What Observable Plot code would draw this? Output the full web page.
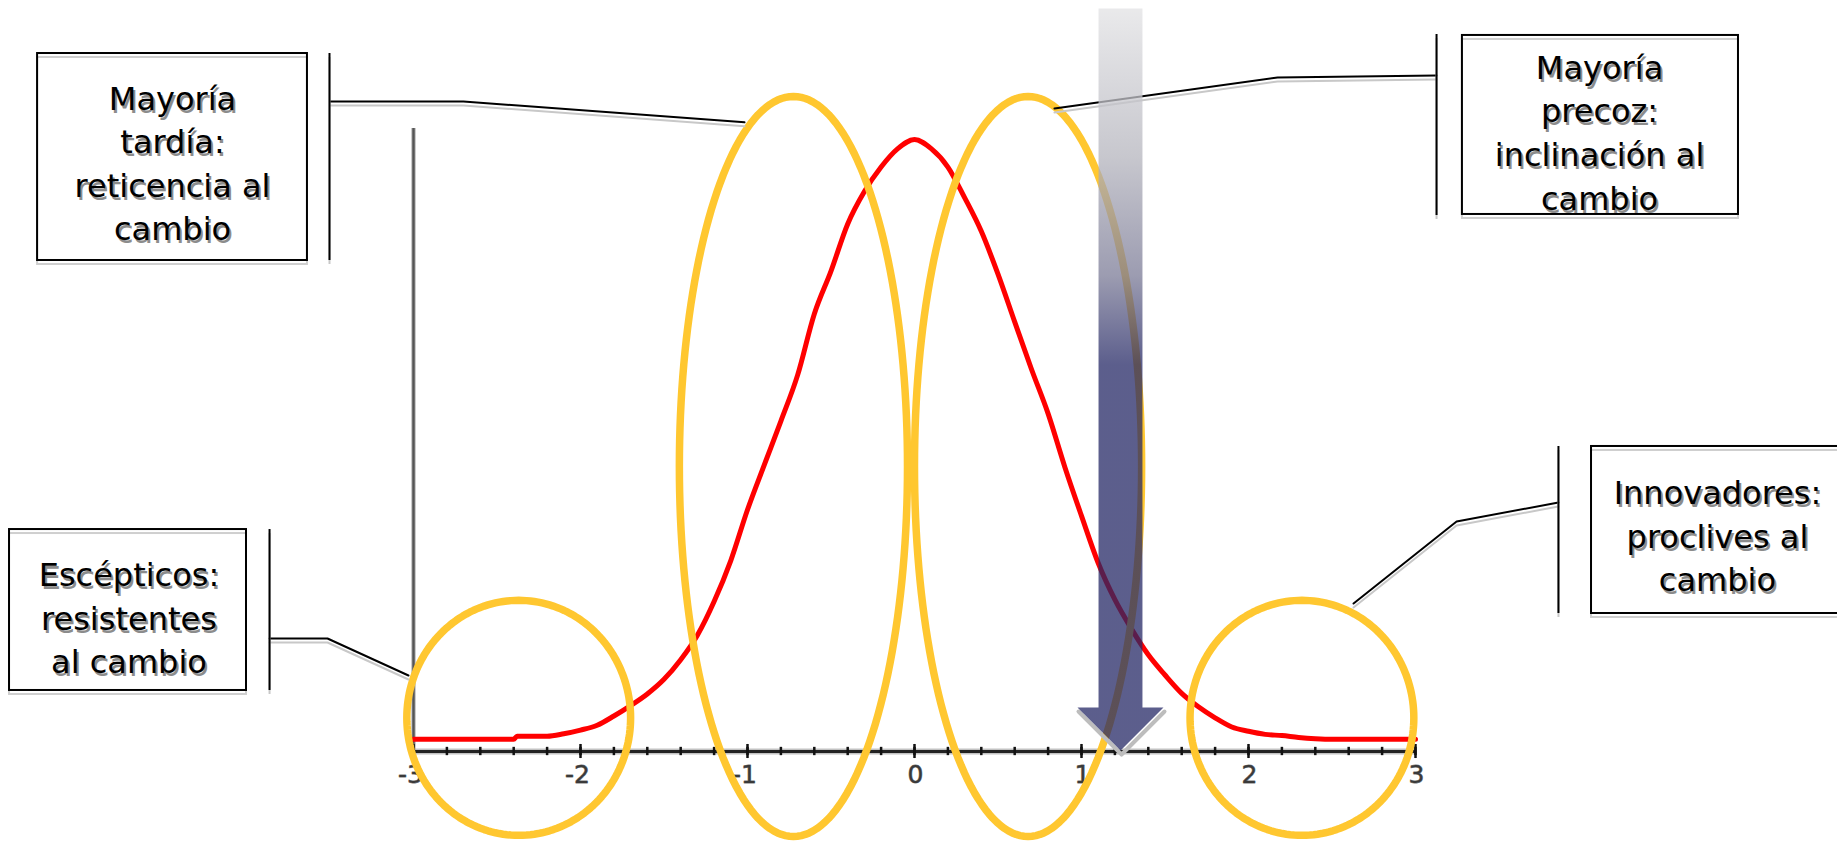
<!DOCTYPE html>
<html><head><meta charset="utf-8">
<script src="https://cdn.jsdelivr.net/npm/d3@7"></script>
<script src="https://cdn.jsdelivr.net/npm/@observablehq/plot@0.6"></script>
<style>html,body{margin:0;padding:0;background:#fff;overflow:hidden}</style>
</head><body><div id="chart"></div>
<script>
// ---- data ----
const curveX = [-3.0,-2.9,-2.8,-2.7,-2.6,-2.5,-2.4,-2.38,-2.3,-2.2,-2.1,-2.0,-1.9,-1.8,-1.7,-1.6,-1.5,-1.4,-1.3,-1.2,-1.1,-1.0,-0.9,-0.8,-0.7,-0.6,-0.5,-0.4,-0.3,-0.2,-0.1,0.0,0.1,0.2,0.3,0.4,0.5,0.6,0.7,0.8,0.9,1.0,1.1,1.2,1.3,1.4,1.5,1.6,1.7,1.8,1.9,2.0,2.1,2.2,2.3,2.4,2.5,2.6,2.7,2.8,2.9,3.0];
const curveY = [0.020,0.020,0.020,0.020,0.020,0.020,0.020,0.025,0.025,0.025,0.029,0.035,0.043,0.058,0.075,0.094,0.118,0.150,0.190,0.245,0.312,0.395,0.468,0.540,0.615,0.715,0.785,0.862,0.915,0.955,0.985,1.000,0.985,0.955,0.905,0.850,0.780,0.702,0.625,0.552,0.465,0.385,0.308,0.248,0.200,0.158,0.125,0.095,0.073,0.055,0.040,0.033,0.028,0.026,0.023,0.021,0.020,0.020,0.020,0.020,0.020,0.020];
const majorTicks = [-3,-2,-1,0,1,2,3];
const tickLabels = ["-3","-2","-1","0","1","2","3"];
const minorTicks = d3.range(-30, 31, 2).map(d => d / 10);
const groupLabels = [
  "Mayoría\ntardía:\nreticencia al\ncambio",
  "Mayoría\nprecoz:\ninclinación al\ncambio",
  "Escépticos:\nresistentes\nal cambio",
  "Innovadores:\nproclives al\ncambio"
];

// ---- annotation layout (in data units of the x / y scales) ----
const boxes = [
  {x1:-5.251, x2:-3.635, y1:1.1405, y2:0.8023, tx:-4.443, ty:0.9644},
  {x1: 3.281, x2: 4.934, y1:1.170,  y2:0.8775, tx: 4.102, ty:1.015},
  {x1:-5.419, x2:-4.000, y1:0.3627, y2:0.0997, tx:-4.704, ty:0.2221},
  {x1: 4.054, x2: 5.575, y1:0.4984, y2:0.2255, tx: 4.808, ty:0.3557}
].map((b, i) => ({...b, label: groupLabels[i]}));
const bars = [
  {x:-3.503, y1:1.1405, y2:0.8023},
  {x: 3.126, y1:1.1716, y2:0.8758},
  {x:-3.862, y1:0.3627, y2:0.0997},
  {x: 3.856, y1:0.4984, y2:0.2255}
];
const leaders = [
  [[-3.497,1.062],[-2.701,1.062],[-1.018,1.028]],
  [[3.126,1.1046],[2.174,1.1013],[0.838,1.0507]],
  [[-3.862,0.1846],[-3.515,0.1846],[-3.030,0.1242]],
  [[3.856,0.4069],[3.246,0.3758],[2.629,0.2418]]
].flatMap((pts, id) => pts.map(([x, y]) => ({id, x, y})));
const ellipses = [
  {cx:-2.37, cy:0.055, rx:0.67, ry:0.192},
  {cx:-0.725, cy:0.4657, rx:0.683, ry:0.6046},
  {cx: 0.68, cy:0.4657, rx:0.68, ry:0.6046},
  {cx: 2.32, cy:0.055, rx:0.67, ry:0.192}
];
const ellipsePts = ellipses.flatMap((e, id) =>
  d3.range(0, 180).map(k => {
    const t = (k / 180) * 2 * Math.PI;
    return {id, x: e.cx + e.rx * Math.cos(t), y: e.cy + e.ry * Math.sin(t)};
  }));
const arrowShape = [
  {x:1.102, y:1.214}, {x:1.102, y:0.0719}, {x:0.976, y:0.0719},
  {x:1.234, y:0.0016}, {x:1.491, y:0.0719}, {x:1.365, y:0.0719}, {x:1.365, y:1.214}
];
const arrowLip = [{x:0.976, y:0.0719}, {x:1.234, y:0.0016}, {x:1.491, y:0.0719}];

const curve = curveX.map((x, i) => ({x, y: curveY[i]}));
const ticksTable = majorTicks.map((x, i) => ({x, label: tickLabels[i]}));
const FONT = "DejaVu Sans";

const chart = Plot.plot({
  width: 1837,
  height: 842,
  marginTop: 0, marginRight: 0, marginBottom: 0, marginLeft: 0,
  x: {domain: [-3, 3], range: [413, 1415], axis: null},
  y: {domain: [0, 1], range: [751, 139], axis: null},
  style: {background: "#fff"},
  marks: [
    // y axis
    Plot.ruleX([-3], {y1: 0, y2: 1.018, stroke: "#999", strokeWidth: 5, strokeOpacity: 0.5}),
    Plot.ruleX([-3], {y1: 0, y2: 1.018, stroke: "#555", strokeWidth: 2.5}),
    // x axis
    Plot.ruleY([0], {x1: -3, x2: 3, stroke: "#999", strokeWidth: 6, strokeOpacity: 0.6}),
    Plot.ruleY([0], {x1: -3, x2: 3, stroke: "#222", strokeWidth: 3}),
    Plot.ruleX(minorTicks, {y1: -0.0068, y2: 0.0068, stroke: "#111", strokeWidth: 2.5}),
    Plot.ruleX(majorTicks, {y1: -0.0115, y2: 0.0115, stroke: "#111", strokeWidth: 2.5}),
    Plot.text(ticksTable.filter(d => d.x < 0), {x: "x", y: 0, text: "label", dy: 23, dx: -3, fontSize: 25, fontFamily: FONT, fill: "#3a3a3a", stroke: "#777", strokeWidth: 0.8}),
    Plot.text(ticksTable.filter(d => d.x >= 0), {x: "x", y: 0, text: "label", dy: 23, dx: 1, fontSize: 25, fontFamily: FONT, fill: "#3a3a3a", stroke: "#777", strokeWidth: 0.8}),
    // red curve
    Plot.line(curve, {x: "x", y: "y", stroke: "#ff0000", strokeWidth: 5, curve: "monotone-x"}),
    // yellow ellipses
    Plot.line(ellipsePts, {x: "x", y: "y", z: "id", curve: "linear-closed", stroke: "#FFC730", strokeWidth: 7.5}),
    // leader lines + shadows
    Plot.line(leaders, {x: "x", y: "y", z: "id", stroke: "#c8c8c8", strokeWidth: 2, dy: 4}),
    Plot.line(leaders, {x: "x", y: "y", z: "id", stroke: "#000", strokeWidth: 2}),
    Plot.ruleX(bars, {x: "x", y1: "y1", y2: "y2", stroke: "#c8c8c8", strokeWidth: 2, dy: 4}),
    Plot.ruleX(bars, {x: "x", y1: "y1", y2: "y2", stroke: "#000", strokeWidth: 2}),
    // boxes
    Plot.rect(boxes, {x1: "x1", x2: "x2", y1: "y1", y2: "y2", fill: "#fff"}),
    Plot.rect(boxes, {x1: "x1", x2: "x2", y1: "y1", y2: "y2", fill: "none", stroke: "#cfcfcf", strokeWidth: 2, dy: 4}),
    Plot.rect(boxes, {x1: "x1", x2: "x2", y1: "y1", y2: "y2", fill: "none", stroke: "#000", strokeWidth: 2}),
    Plot.text(boxes, {x: "tx", y: "ty", text: "label", fontSize: 32, fontFamily: FONT, lineHeight: 1.36, fill: "#8c8c8c", dx: 2, dy: 3}),
    Plot.text(boxes, {x: "tx", y: "ty", text: "label", fontSize: 32, fontFamily: FONT, lineHeight: 1.36, fill: "#000"}),
    // arrow
    Plot.line(arrowLip, {x: "x", y: "y", stroke: "#bdbdbd", strokeWidth: 4, dy: 4, dx: 1}),
    Plot.line(arrowShape, {x: "x", y: "y", curve: "linear-closed", stroke: "none", fill: "url(#arrowGrad)", fillOpacity: 0.745})
  ]
});

d3.select(chart).insert("defs", ":first-child").html(`
  <linearGradient id="arrowGrad" x1="0" y1="0" x2="0" y2="1">
    <stop offset="0" stop-color="#e2e2e4"/>
    <stop offset="0.2" stop-color="#b4b4bd"/>
    <stop offset="0.36" stop-color="#7a7a96"/>
    <stop offset="0.48" stop-color="#242765"/>
    <stop offset="1" stop-color="#242765"/>
  </linearGradient>`);

document.getElementById("chart").appendChild(chart);
</script>
</body></html>
